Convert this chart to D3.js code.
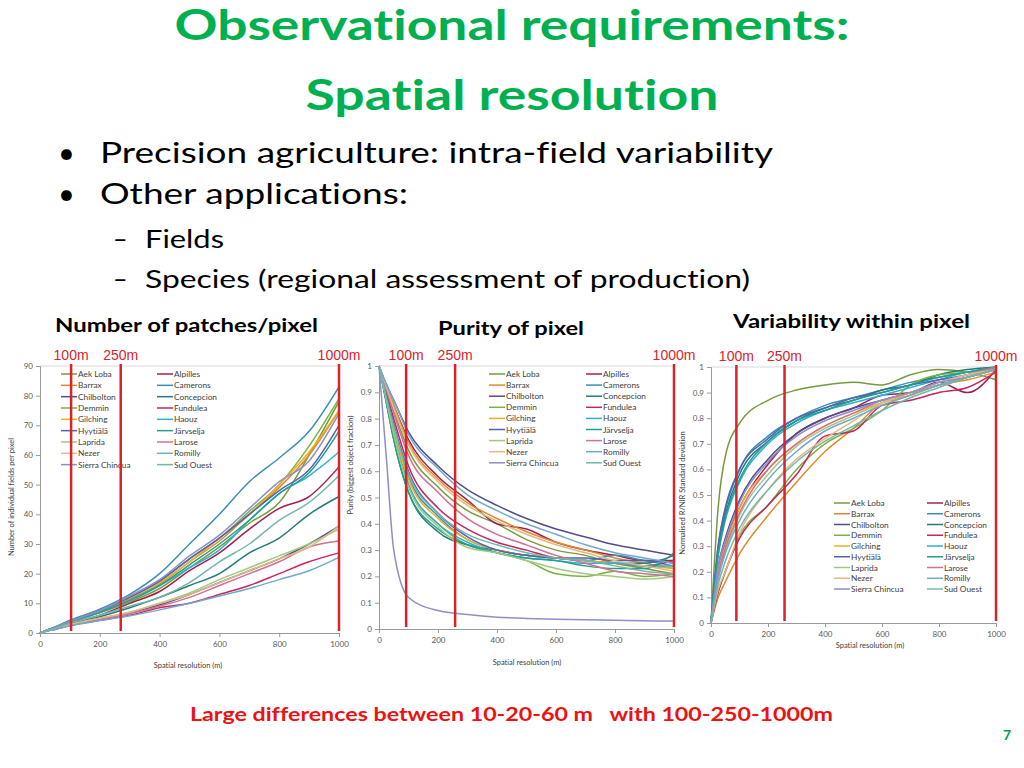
<!DOCTYPE html>
<html><head><meta charset="utf-8">
<script src="https://cdn.jsdelivr.net/npm/d3@7"></script>
<style>body{margin:0;background:#fff}svg{display:block}text{white-space:pre;font-variant-ligatures:none}</style>
</head><body><svg id="c" width="1024" height="768"></svg>
<script>
// ---------- DATA ----------
const xRes = [0,25,50,100,200,300,400,500,600,700,800,900,1000];
const sites = ["Aek Loba","Alpilles","Barrax","Camerons","Chilbolton","Concepcion","Demmin","Fundulea","Gilching","Haouz","Hyytiälä","Järvselja","Laprida","Larose","Nezer","Romilly","Sierra Chincua","Sud Ouest"];
const siteColors = ["#789a3c","#a3204c","#e08a2c","#3a8db8","#4f4f90","#247a78","#78b445","#c8245e","#f0ae1e","#2eb0d2","#5262b2","#1fa08e","#a2c880","#d47092","#e2b984","#72a8cc","#8e8ec8","#72b8a8"];
const patchCounts = [
 [0,1,1.8,3.7,6.8,10.5,15,22,29,37,44,60,78],
 [0,0.9,1.6,3.3,6,10,14,21,27,35,42,46,56],
 [0,1,1.8,3.8,7,11.5,16.5,24,31,40,49,60,75],
 [0,1,2,4.3,8,13,20,30,40,51,59,68,83],
 [0,0.8,1.4,2.7,4.8,6.8,9.5,13,17,21,25,30,36],
 [0,0.9,1.5,3.1,5.5,8.5,12,16,20,27,32,40,46],
 [0,1,1.9,4,7.5,12,17.5,25,32,41,50,63,79],
 [0,0.7,1.2,2.5,4.3,6,8.5,10,13,16,20,24,27],
 [0,1,1.9,4,7.5,12,17,24,32,40,50,61,75],
 [0,1,1.8,3.7,7,11,16,22,28,38,47,53,61],
 [0,1,1.9,4,7.5,12,17.5,25,32,40,48,55,70],
 [0,1,1.8,3.8,7,11,16,23,30,38,47,54,68],
 [0,0.8,1.4,2.8,5,7,10,13.5,18,22,26,30,35],
 [0,0.8,1.3,2.6,4.6,6.5,9,12,16,20,24,29,31],
 [0,0.8,1.4,2.8,5,7,10,13,17,21,25,29,36],
 [0,0.7,1.2,2.4,4.2,5.8,7.8,10,12.5,15,18,21,25.5],
 [0,1,1.9,4,7.5,12.5,18,26,33,42,51,58,74],
 [0,0.9,1.6,3.3,6,9,12,17,24,30,38,44,53]
];
const purityValues = [
 [1,.91,.83,.68,.54,.45,.40,.34,.30,.28,.25,.23,.21],
 [1,.92,.85,.72,.58,.49,.40,.38,.33,.30,.28,.26,.26],
 [1,.92,.85,.71,.57,.48,.42,.37,.33,.30,.27,.25,.23],
 [1,.88,.77,.58,.43,.34,.30,.28,.27,.26,.28,.26,.24],
 [1,.93,.87,.75,.62,.53,.47,.42,.38,.35,.32,.30,.28],
 [1,.86,.72,.52,.37,.32,.30,.28,.27,.26,.25,.25,.28],
 [1,.88,.75,.55,.40,.32,.29,.26,.21,.20,.22,.20,.21],
 [1,.90,.80,.62,.46,.38,.33,.30,.27,.26,.25,.24,.26],
 [1,.88,.76,.57,.42,.34,.30,.28,.27,.26,.25,.24,.23],
 [1,.87,.74,.55,.40,.33,.29,.27,.26,.25,.25,.24,.24],
 [1,.89,.78,.60,.44,.35,.30,.28,.27,.27,.26,.26,.25],
 [1,.86,.72,.52,.38,.32,.29,.27,.26,.24,.23,.23,.29],
 [1,.87,.74,.54,.39,.31,.29,.26,.23,.21,.20,.19,.20],
 [1,.91,.82,.66,.52,.42,.36,.32,.28,.25,.22,.21,.20],
 [1,.92,.84,.70,.56,.47,.41,.36,.32,.29,.26,.24,.22],
 [1,.93,.87,.74,.61,.51,.45,.40,.36,.32,.29,.27,.25],
 [1,.65,.30,.12,.07,.055,.045,.04,.037,.035,.033,.031,.03],
 [1,.88,.77,.59,.44,.36,.32,.29,.27,.26,.24,.22,.21]
];
const variabilityValues = [
 [0,.45,.65,.78,.87,.91,.93,.94,.93,.97,.99,.98,.95],
 [0,.2,.31,.45,.62,.74,.8,.84,.89,.9,.94,.9,.99],
 [0,.1,.16,.27,.42,.55,.67,.76,.86,.89,.93,.95,.98],
 [0,.3,.44,.6,.73,.8,.85,.88,.91,.94,.96,.98,1],
 [0,.22,.33,.48,.64,.74,.8,.84,.87,.9,.93,.96,.99],
 [0,.28,.42,.58,.71,.79,.84,.87,.91,.93,.97,.99,1],
 [0,.12,.2,.34,.46,.6,.7,.76,.83,.93,.97,.98,1],
 [0,.12,.2,.33,.46,.58,.73,.75,.85,.87,.9,.92,.98],
 [0,.2,.3,.45,.6,.7,.77,.82,.86,.89,.93,.96,.99],
 [0,.26,.4,.55,.7,.78,.83,.86,.89,.92,.95,.98,.99],
 [0,.3,.45,.6,.72,.8,.84,.88,.9,.93,.95,.97,1],
 [0,.27,.41,.56,.71,.79,.83,.87,.9,.93,.96,.98,1],
 [0,.18,.28,.42,.58,.69,.76,.81,.86,.9,.93,.96,.99],
 [0,.19,.29,.43,.6,.7,.77,.82,.87,.9,.94,.97,1],
 [0,.13,.2,.35,.52,.64,.72,.79,.86,.9,.94,.97,.99],
 [0,.17,.27,.4,.56,.67,.75,.8,.85,.89,.93,.96,.99],
 [0,.22,.32,.47,.63,.73,.79,.83,.87,.9,.94,.96,.99],
 [0,.15,.24,.37,.52,.63,.71,.77,.83,.88,.92,.96,.99]
];
const markerLabels = ["100m","250m","1000m"];
const patchMarkers = [104,270,1000];
const purityMarkers = [92,258,1000];
const variabilityMarkers = [89,258,1000];
const patchTicks = [0,10,20,30,40,50,60,70,80,90];
const unitTicks = [0,0.1,0.2,0.3,0.4,0.5,0.6,0.7,0.8,0.9,1];
const xTicks = [0,200,400,600,800,1000];

// ---------- DRAW ----------
const svg = d3.select("#c");
const F = "Lato, 'Open Sans', sans-serif";

function txt(s, x, y, size, opt={}) {
  const t = svg.append("text").attr("x", x).attr("y", y).text(s)
    .attr("font-family", F).attr("font-size", size)
    .attr("fill", opt.fill || "#000")
    .attr("font-weight", opt.bold ? "bold" : "normal")
    .attr("text-anchor", opt.anchor || "start");
  if (opt.len) t.attr("textLength", opt.len).attr("lengthAdjust", "spacingAndGlyphs");
  return t;
}

txt("Observational requirements:", 512, 40, 42, {bold:true, fill:"#00b050", anchor:"middle", len:675});
txt("Spatial resolution", 512, 110, 42, {bold:true, fill:"#00b050", anchor:"middle", len:413});
txt("•", 58, 163, 29);
txt("Precision agriculture: intra-field variability", 100, 163, 29, {len:673});
txt("•", 58, 204, 29);
txt("Other applications:", 100, 204, 29, {len:308});
txt("–", 113, 248, 25);
txt("Fields", 145, 248, 25, {len:79});
txt("–", 113, 288, 25);
txt("Species (regional assessment of production)", 145, 288, 25, {len:605});
txt("Number of patches/pixel", 55, 332, 19, {bold:true, len:263});
txt("Purity of pixel", 438, 335, 19, {bold:true, len:146});
txt("Variability within pixel", 733, 328, 19, {bold:true, len:237});
txt("Large differences between 10-20-60 m   with 100-250-1000m", 190, 721, 19, {bold:true, fill:"#ee1111", len:643});
txt("7", 1007, 740, 14, {bold:true, fill:"#00a050", anchor:"middle"});

const charts = [
  {values: patchCounts, ymax: 90, yTicks: patchTicks, fmt: d3.format("d"),
   x0: 40, x1: 339, yTop: 366, yBot: 633, markers: patchMarkers, redTop: 364, labelY: 360,
   yTitle: "Number of individual fields per pixel", yTitleX: 14, yTitleY: 497,
   xTitleX: 188, xTitleY: 668, legX: 61, legX2: 157, legY: 374, legDy: 11.33},
  {values: purityValues, ymax: 1, yTicks: unitTicks, fmt: d3.format("~g"),
   x0: 379, x1: 674, yTop: 366, yBot: 629, markers: purityMarkers, redTop: 364, labelY: 360,
   yTitle: "Purity (biggest object fraction)", yTitleX: 353, yTitleY: 465,
   xTitleX: 527, xTitleY: 665, legX: 489, legX2: 586, legY: 374, legDy: 11.1},
  {values: variabilityValues, ymax: 1, yTicks: unitTicks, fmt: d3.format("~g"),
   x0: 711, x1: 996, yTop: 367, yBot: 623, markers: variabilityMarkers, redTop: 365, labelY: 361,
   yTitle: "Normalised R/NIR Standard deviation", yTitleX: 685, yTitleY: 493,
   xTitleX: 870, xTitleY: 648, legX: 834, legX2: 927, legY: 503, legDy: 10.75}
];

charts.forEach(c => {
  const x = d3.scaleLinear().domain([0,1000]).range([c.x0, c.x1]);
  const y = d3.scaleLinear().domain([0,c.ymax]).range([c.yBot, c.yTop]);
  const g = svg.append("g");
  g.append("line").attr("x1", c.x0).attr("x2", c.x1).attr("y1", c.yTop).attr("y2", c.yTop)
    .attr("stroke", "#d9d9d9").attr("stroke-width", 1);
  const ay = g.append("g").attr("transform", `translate(${c.x0},0)`)
    .call(d3.axisLeft(y).tickValues(c.yTicks).tickFormat(c.fmt).tickSize(4).tickPadding(3));
  const ax = g.append("g").attr("transform", `translate(0,${c.yBot})`)
    .call(d3.axisBottom(x).tickValues(xTicks).tickFormat(d3.format("d")).tickSize(4).tickPadding(4));
  [ax, ay].forEach(a => {
    a.select(".domain").attr("stroke", "#9a9a9a");
    a.selectAll(".tick line").attr("stroke", "#9a9a9a");
    a.selectAll(".tick text").attr("fill", "#595959").attr("font-family", F).attr("font-size", 8);
  });
  g.append("text").attr("transform", `translate(${c.yTitleX},${c.yTitleY}) rotate(-90)`)
    .attr("text-anchor", "middle").attr("font-family", F).attr("font-size", 7.5)
    .attr("fill", "#404040").text(c.yTitle);
  g.append("text").attr("x", c.xTitleX).attr("y", c.xTitleY)
    .attr("text-anchor", "middle").attr("font-family", F).attr("font-size", 7.5)
    .attr("fill", "#404040").text("Spatial resolution (m)");
  const line = d3.line().x((d,i) => x(xRes[i])).y(d => y(d)).curve(d3.curveMonotoneX);
  g.append("g").selectAll("path").data(c.values).join("path")
    .attr("d", line).attr("fill", "none")
    .attr("stroke", (d,i) => siteColors[i]).attr("stroke-width", 1.5);
  sites.forEach((s, i) => {
    const col = i % 2, row = Math.floor(i / 2);
    const lx = col ? c.legX2 : c.legX;
    const ly = c.legY + row * c.legDy;
    g.append("line").attr("x1", lx).attr("x2", lx + 16).attr("y1", ly).attr("y2", ly)
      .attr("stroke", siteColors[i]).attr("stroke-width", 1.5);
    g.append("text").attr("x", lx + 17).attr("y", ly + 3).attr("font-family", F)
      .attr("font-size", 8.3).attr("fill", "#404040").text(s);
  });
  c.markers.forEach((m, i) => {
    g.append("line").attr("x1", x(m)).attr("x2", x(m)).attr("y1", c.redTop).attr("y2", c.yBot - 2)
      .attr("stroke", "#d8232a").attr("stroke-width", 2.5);
    g.append("text").attr("x", x(m)).attr("y", c.labelY).attr("text-anchor", "middle")
      .attr("font-family", "'Liberation Sans', Arial, sans-serif").attr("font-size", 14)
      .attr("fill", "#d8232a").text(markerLabels[i]);
  });
});
</script></body></html>
